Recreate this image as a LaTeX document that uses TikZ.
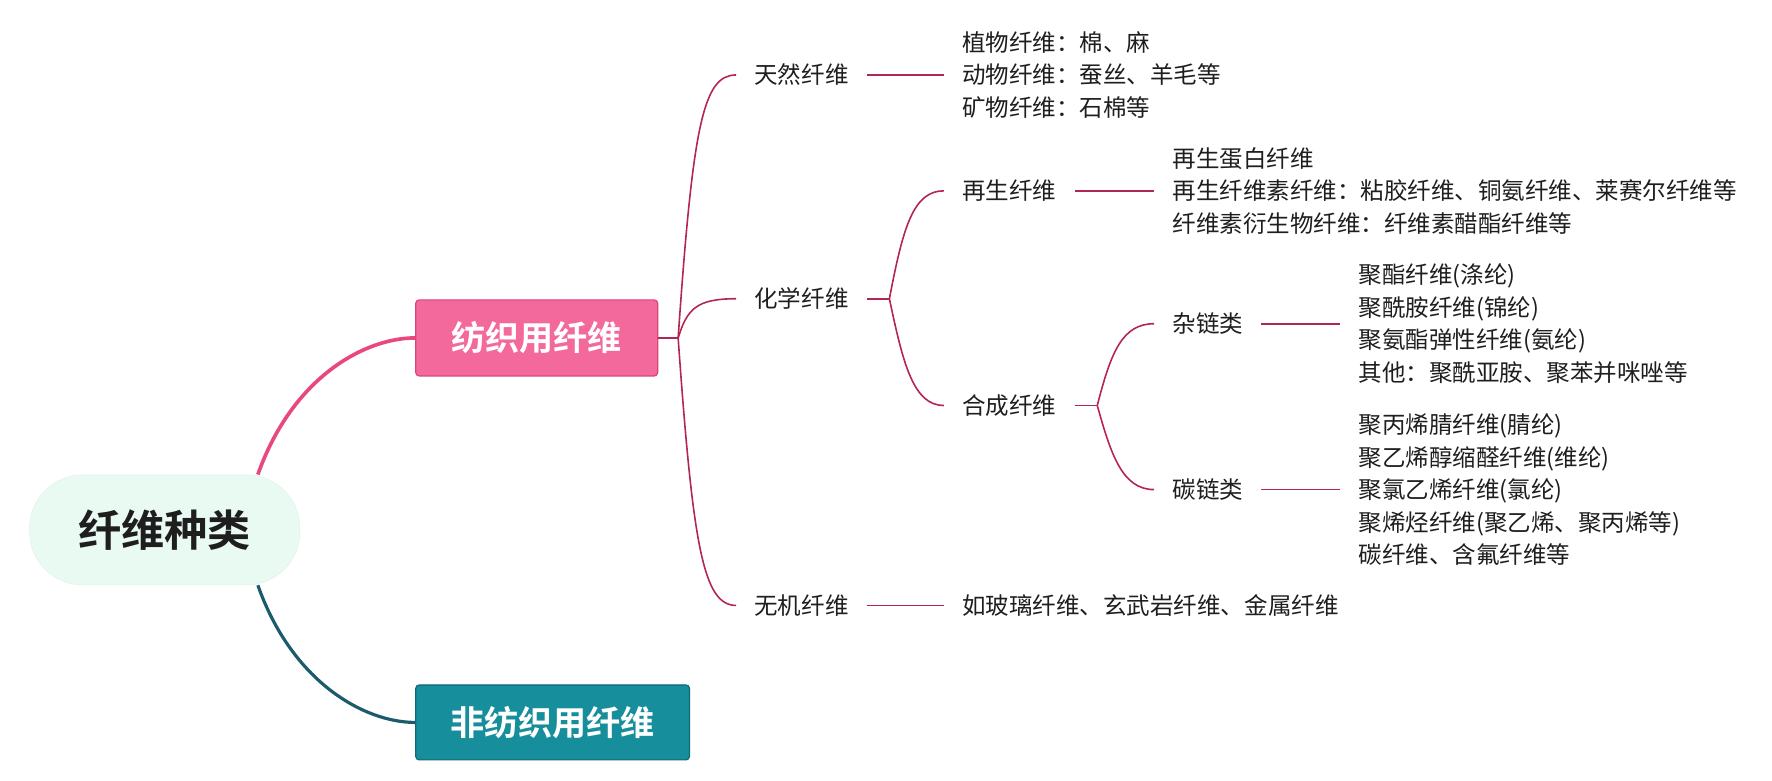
\documentclass[tikz,border=0pt]{standalone}
\usepackage{fontspec}
\setmainfont{Noto Sans CJK SC}[BoldFont={Noto Sans CJK SC Bold}]
\usetikzlibrary{calc}
\definecolor{pinkfill}{HTML}{F4699C}
\definecolor{pinkdraw}{HTML}{D94479}
\definecolor{tealfill}{HTML}{178E9B}
\definecolor{tealdraw}{HTML}{0F6A75}
\definecolor{centfill}{HTML}{E8FAF1}
\definecolor{centdraw}{HTML}{DDF3E8}
\definecolor{lnk}{HTML}{B3264F}
\definecolor{mainpink}{HTML}{E9487C}
\definecolor{mainteal}{HTML}{1B5B6B}
\definecolor{txt}{HTML}{1E1E1E}
\begin{document}
\begin{tikzpicture}[x=1pt,y=-1pt,
  leaf/.style={anchor=west, inner xsep=16pt, inner ysep=0pt,
    font=\fontsize{20.7}{28.6}\selectfont, text=txt, align=left},
  topicbox/.style={rectangle, rounded corners=3pt, line width=1pt,
    font=\fontsize{30}{36}\selectfont\bfseries, text=white},
  lk/.style={draw=lnk, line width=1.4pt}
]
\useasboundingbox (0,0) rectangle (1560,686.7);

% central
\node[rectangle, rounded corners=47pt, fill=centfill, draw=centdraw,
  minimum width=238pt, minimum height=97pt,
  font=\fontsize{38}{44}\selectfont\bfseries, text=txt] (c) at (145,466.5) {纤维种类};

% main topics
\node[topicbox, fill=pinkfill, draw=pinkdraw, minimum width=213pt, minimum height=67pt] (t1) at (472.5,297.5) {纺织用纤维};
\node[topicbox, fill=tealfill, draw=tealdraw, minimum width=241pt, minimum height=66pt] (t2) at (486.5,636) {非纺织用纤维};

\draw[mainpink, line width=3.2pt] ([xshift=82pt]c.north) .. controls +(30,-85) and +(-45,0) .. (t1.west);
\draw[mainteal, line width=2.8pt] ([xshift=82pt]c.south) .. controls +(30,85) and +(-45,0) .. (t2.west);

% level 2
\node[leaf] (n1) at (648,66) {天然纤维};
\node[leaf] (n2) at (648,263) {化学纤维};
\node[leaf] (n3) at (648,533) {无机纤维};
\coordinate (j1) at (597,297.5);
\draw[lk] (t1.east) -- (j1);
\draw[lk] (j1) .. controls (610,110) and (619,66) .. (n1.west);
\draw[lk] (j1) .. controls (605,272) and (613,263) .. (n2.west);
\draw[lk] (j1) .. controls (610,480) and (619,533) .. (n3.west);

% natural
\node[leaf] (n1a) at (831,66) {植物纤维：棉、麻\\动物纤维：蚕丝、羊毛等\\矿物纤维：石棉等};
\draw[lk] (n1.east) -- (n1a.west);

% chemical
\node[leaf] (n21) at (831,168) {再生纤维};
\node[leaf] (n22) at (831,357) {合成纤维};
\coordinate (j2) at (783,263);
\draw[lk] (n2.east) -- (j2);
\draw[lk] (j2) .. controls (795,200) and (804,168) .. (n21.west);
\draw[lk] (j2) .. controls (795,320) and (804,357) .. (n22.west);

\node[leaf] (n21a) at (1016,168) {再生蛋白纤维\\再生纤维素纤维：粘胶纤维、铜氨纤维、莱赛尔纤维等\\纤维素衍生物纤维：纤维素醋酯纤维等};
\draw[lk] (n21.east) -- (n21a.west);

\node[leaf] (n221) at (1016,285) {杂链类};
\node[leaf] (n222) at (1016,431) {碳链类};
\coordinate (j3) at (966,357);
\draw[lk] (n22.east) -- (j3);
\draw[lk] (j3) .. controls (978,310) and (988,285) .. (n221.west);
\draw[lk] (j3) .. controls (978,400) and (988,431) .. (n222.west);

\node[leaf] (n221a) at (1180,285) {聚酯纤维(涤纶)\\聚酰胺纤维(锦纶)\\聚氨酯弹性纤维(氨纶)\\其他：聚酰亚胺、聚苯并咪唑等};
\draw[lk] (n221.east) -- (n221a.west);
\node[leaf] (n222a) at (1180,431) {聚丙烯腈纤维(腈纶)\\聚乙烯醇缩醛纤维(维纶)\\聚氯乙烯纤维(氯纶)\\聚烯烃纤维(聚乙烯、聚丙烯等)\\碳纤维、含氟纤维等};
\draw[lk] (n222.east) -- (n222a.west);

% inorganic
\node[leaf] (n3a) at (831,533) {如玻璃纤维、玄武岩纤维、金属纤维};
\draw[lk] (n3.east) -- (n3a.west);
\end{tikzpicture}
\end{document}
